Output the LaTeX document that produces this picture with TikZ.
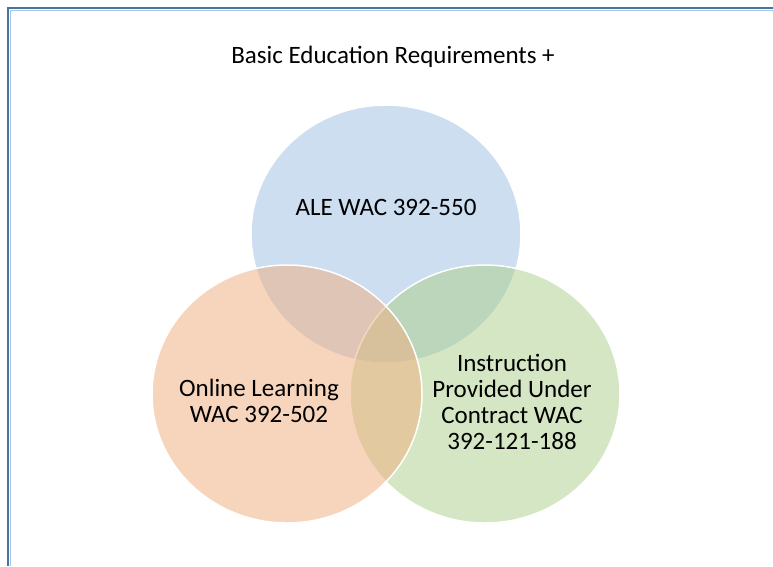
\documentclass[tikz,border=0pt]{standalone}
\usepackage{fontspec}
\setmainfont{Carlito}
\definecolor{frameblue}{RGB}{70,116,160}
\definecolor{framelight}{RGB}{170,196,228}
\definecolor{vblue}{RGB}{155,191,225}
\definecolor{vorange}{RGB}{241,173,125}
\definecolor{vgreen}{RGB}{173,207,139}
\begin{document}
\begin{tikzpicture}[x=1pt,y=-1pt,
  venn/.style={draw=white,line width=1.5pt,fill opacity=0.5},
  lbl/.style={font=\fontsize{25}{26}\selectfont,align=center,text=black}]
\useasboundingbox (0,0) rectangle (773,566);
\fill[white] (0,0) rectangle (773,566);
% frame
\draw[frameblue,line width=2.6pt] (8,566) -- (8,8) -- (773,8);
\draw[framelight,line width=1pt] (10.3,566) -- (10.3,10.3) -- (773,10.3);
% circles
\path[venn,fill=vblue] (386,234) ellipse [x radius=135,y radius=129];
\path[venn,fill=vgreen] (485,394) ellipse [x radius=135,y radius=129];
\path[venn,fill=vorange] (287,394) ellipse [x radius=135,y radius=129];
% labels
\node[lbl] (title) at (393,57) {Basic Education Requirements +};
\node[lbl] (ale) at (386,207) {ALE WAC 392-550};
\node[lbl] (online) at (259,401) {Online Learning\\WAC 392-502};
\node[lbl] (contract) at (512,402) {Instruction\\Provided Under\\Contract WAC\\392-121-188};
\end{tikzpicture}
\end{document}
